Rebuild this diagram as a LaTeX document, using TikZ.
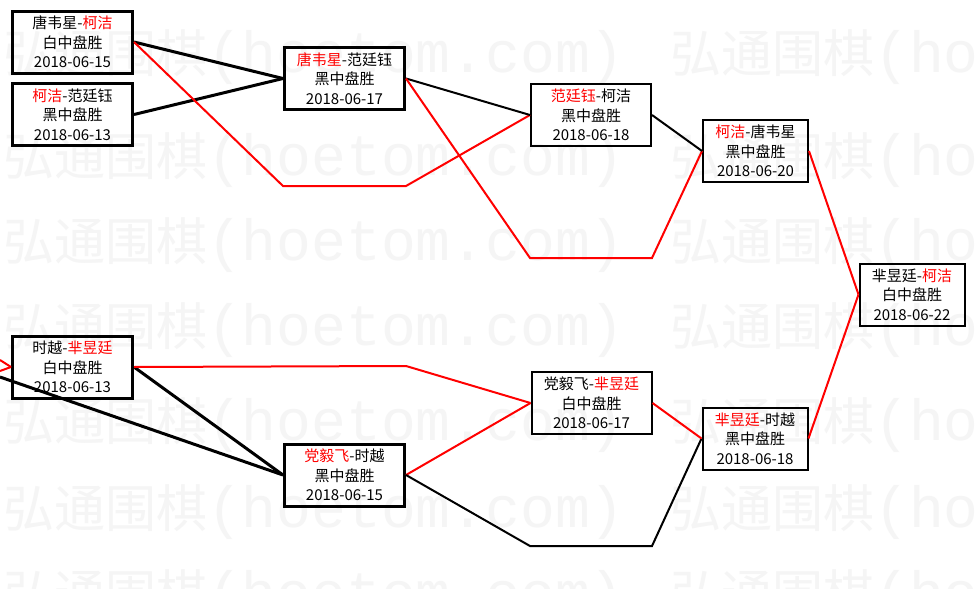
\documentclass[tikz,border=0pt]{standalone}
\usepackage{fontspec}
\setmainfont{Noto Sans CJK SC}
\newfontfamily\cjk{Noto Sans CJK SC}
\newfontfamily\mono{Liberation Mono}
\newcommand{\rdn}[1]{\textcolor{red}{#1}}
\newcommand{\hyph}{-}
\newcommand{\gday}[1]{{\cjk\fontsize{15}{19.5}\selectfont #1}}
\newcommand{\wmark}{{\cjk\fontsize{51}{51}\selectfont 弘通围棋}{\mono\fontsize{58}{58}\selectfont (hoetom.com)}}
\begin{document}
\begin{tikzpicture}[x=1pt,y=-1pt,
  game/.style={draw, align=center, inner sep=0pt, font=\fontsize{15}{19.5}\selectfont\cjk},
  rone/.style={game, line width=3pt, minimum width=120pt, minimum height=62pt},
  rtwo/.style={game, line width=2pt, minimum width=120pt, minimum height=62pt},
  rthree/.style={game, line width=2pt, minimum width=105pt, minimum height=62pt},
  bk/.style={draw=black, line width=2pt},
  bkt/.style={draw=black, line width=3pt},
  rd/.style={draw=red, line width=2pt},
  wm/.style={text=black!4, anchor=west, inner sep=0pt}
]
\useasboundingbox (0,0) rectangle (975,589);
\fill[white] (0,0) rectangle (975,589);
\begin{scope}
\clip (0,0) rectangle (975,589);
\foreach \yy in {57,160,245,330,425,512,597}{
  \node[wm] (wa\yy) at (3,\yy) {\wmark};
  \node[wm] (wb\yy) at (670,\yy) {\wmark};
}
\end{scope}

% games
\node[rone] (A) at (72.5,42) {唐韦星\hyph\rdn{柯洁}\\白中盘胜\\\gday{2018-06-15}};
\node[rone] (B) at (72.5,114.5) {\rdn{柯洁}\hyph 范廷钰\\黑中盘胜\\\gday{2018-06-13}};
\node[rone] (C) at (344.5,78.5) {\rdn{唐韦星}\hyph 范廷钰\\黑中盘胜\\\gday{2018-06-17}};
\node[rtwo] (D) at (591,115) {\rdn{范廷钰}\hyph 柯洁\\黑中盘胜\\\gday{2018-06-18}};
\node[rthree] (E) at (755.5,151) {\rdn{柯洁}\hyph 唐韦星\\黑中盘胜\\\gday{2018-06-20}};
\node[rthree] (F) at (912,294.5) {芈昱廷\hyph\rdn{柯洁}\\白中盘胜\\\gday{2018-06-22}};
\node[rone] (G) at (72.5,367) {时越\hyph\rdn{芈昱廷}\\白中盘胜\\\gday{2018-06-13}};
\node[rone] (H) at (344.5,475) {\rdn{党毅飞}\hyph 时越\\黑中盘胜\\\gday{2018-06-15}};
\node[rtwo] (I) at (591.5,403) {党毅飞\hyph\rdn{芈昱廷}\\白中盘胜\\\gday{2018-06-17}};
\node[rthree] (J) at (755,438.5) {\rdn{芈昱廷}\hyph 时越\\黑中盘胜\\\gday{2018-06-18}};

% free ends and corners
\coordinate (la) at (0,360);
\coordinate (lb) at (0,371);
\coordinate (lc) at (0,377);
\coordinate (c1) at (283,186);
\coordinate (c2) at (406,186);
\coordinate (c3) at (530,258);
\coordinate (c4) at (652,258);
\coordinate (c5) at (406,366);
\coordinate (c6) at (530,546);
\coordinate (c7) at (652,546);

% connectors
\draw[bkt] (A.east) -- (C.west);
\draw[bkt] (B.east) -- (C.west);
\draw[rd] (A.east) -- (c1) -- (c2) -- (D.west);
\draw[bk] (C.east) -- (D.west);
\draw[rd] (C.east) -- (c3) -- (c4) -- (E.west);
\draw[bk] (D.east) -- (E.west);
\draw[rd] (E.east) -- (F.west);
\draw[rd] (la) -- (G.west);
\draw[rd] (lb) -- (G.west);
\draw[bkt] (lc) -- (H.west);
\draw[bkt] (G.east) -- (H.west);
\draw[rd] (G.east) -- (c5) -- (I.west);
\draw[rd] (H.east) -- (I.west);
\draw[bk] (H.east) -- (c6) -- (c7) -- (J.west);
\draw[rd] (I.east) -- (J.west);
\draw[rd] (J.east) -- (F.west);
\end{tikzpicture}
\end{document}
